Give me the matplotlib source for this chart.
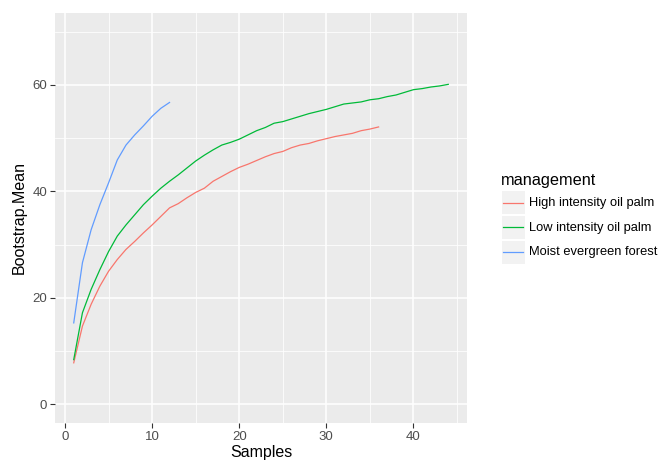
import matplotlib
matplotlib.use("Agg")
import matplotlib.pyplot as plt
from matplotlib.patches import Rectangle
from matplotlib.lines import Line2D
import numpy as np

plt.rcParams['font.family'] = ['Liberation Sans', 'DejaVu Sans']

# bootstrap means, one value per sample count
high_y = [7.8, 14.7, 18.8, 22.2, 25.0, 27.2, 29.1, 30.6, 32.2, 33.7,
          35.3, 36.9, 37.7, 38.8, 39.8, 40.6, 41.9, 42.8, 43.7, 44.5,
          45.1, 45.8, 46.5, 47.1, 47.5, 48.2, 48.7, 49.0, 49.5, 49.9,
          50.3, 50.6, 50.9, 51.4, 51.7, 52.1]
low_y = [8.4, 17.2, 21.6, 25.3, 28.7, 31.6, 33.7, 35.6, 37.5, 39.1,
         40.6, 41.9, 43.1, 44.4, 45.7, 46.8, 47.8, 48.7, 49.2, 49.8,
         50.6, 51.4, 52.0, 52.8, 53.1, 53.6, 54.1, 54.6, 55.0, 55.4,
         55.9, 56.4, 56.6, 56.8, 57.2, 57.4, 57.8, 58.1, 58.6, 59.1,
         59.3, 59.6, 59.8, 60.1]
moist_y = [15.3, 26.6, 32.8, 37.5, 41.6, 45.9, 48.7, 50.6, 52.3, 54.1,
           55.6, 56.7]

labels = ["High intensity oil palm", "Low intensity oil palm",
          "Moist evergreen forest"]
colors = ["#F8766D", "#00BA38", "#619CFF"]
series = [high_y, low_y, moist_y]

W, H = 660, 465
fig = plt.figure(figsize=(W / 100, H / 100), dpi=100)
ax = fig.add_axes([55 / W, 1 - 423 / H, 412 / W, 410 / H])
ax.set_facecolor("#EBEBEB")

for vals, lab, col in zip(series, labels, colors):
    xs = np.arange(1, len(vals) + 1)
    ax.plot(xs, vals, color=col, lw=0.9, label=lab)

ax.set_xlim(-1.15, 46.15)
ax.set_ylim(-3.5, 73.5)
ax.set_xticks([0, 10, 20, 30, 40])
ax.set_yticks([0, 20, 40, 60])
ax.set_xticks([5, 15, 25, 35, 45], minor=True)
ax.set_yticks([10, 30, 50, 70], minor=True)
ax.grid(True, which="major", color="white", lw=1.1)
ax.grid(True, which="minor", color="white", lw=0.55)
ax.set_axisbelow(True)
for s in ax.spines.values():
    s.set_visible(False)
ax.tick_params(which="major", length=3.5, width=0.8, color="#333333",
               labelsize=9.5, labelcolor="#4D4D4D", pad=2)
ax.tick_params(which="minor", length=0)

ax.set_xlabel("Samples", fontsize=11.5, labelpad=2)
ax.set_ylabel("Bootstrap.Mean", fontsize=11.5, labelpad=4)

# legend drawn by hand, ggplot style (grey key boxes)
fig.text(501 / W, 1 - 181 / H, "management", fontsize=11.7,
         va="center", ha="left")
for i, (lab, col) in enumerate(zip(labels, colors)):
    yc = 202.5 + 25 * i
    fig.patches.append(Rectangle((501.5 / W, 1 - (yc + 11.5) / H), 23 / W,
                                 23 / H, transform=fig.transFigure,
                                 facecolor="#F2F2F2", edgecolor="none"))
    fig.lines.append(Line2D([503 / W, 523 / W], [1 - yc / H, 1 - yc / H],
                            transform=fig.transFigure, color=col, lw=0.9))
    fig.text(529 / W, 1 - yc / H, lab, fontsize=9.3, va="center",
             ha="left")

fig.savefig("out.png", dpi=100)
